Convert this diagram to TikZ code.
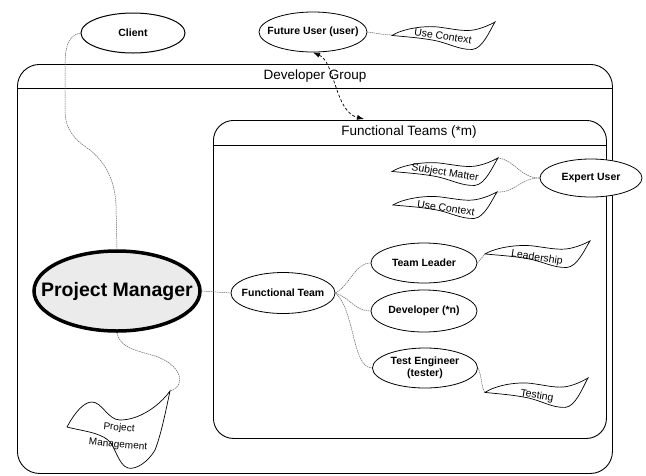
\documentclass[tikz,border=0pt]{standalone}
\usepackage{fontspec}
\setmainfont{Liberation Sans}
\usetikzlibrary{shapes.geometric,arrows.meta}
\tikzset{
  ell/.style={draw, ellipse, line width=0.8pt, fill=white, inner sep=0pt,
    font=\bfseries\fontsize{10.5}{12}\selectfont, align=center},
  conn/.style={draw=black!60, line width=0.5pt, dash pattern=on 1.5pt off 0.7pt},
  flagtxt/.style={font=\fontsize{10.5}{12}\selectfont, inner sep=0pt, rotate=-9},
  pmtxt/.style={font=\fontsize{10}{12}\selectfont, inner sep=0pt, rotate=-5},
  boxline/.style={line width=0.9pt},
  titletxt/.style={font=\fontsize{13.5}{15}\selectfont, inner sep=0pt},
  darr/.style={line width=0.7pt, dash pattern=on 3pt off 2pt,
    {Latex[length=7pt,width=5pt]}-{Latex[length=7pt,width=5pt]}},
}
\newcommand{\wflag}[4]{%
  \path[draw=black, line width=0.7pt, fill=white, shift={(#1,#2)}, xscale=#3, yscale=#4]
    (0,0.48) .. controls (0.1,0.25) and (0.3,0.12) .. (0.45,0.18)
    .. controls (0.6,0.25) and (0.7,0.35) .. (0.8,0.28)
    .. controls (0.88,0.22) and (0.95,0.1) .. (1,0)
    .. controls (0.95,0.3) and (0.88,0.95) .. (0.78,0.98)
    .. controls (0.65,1.0) and (0.55,0.75) .. (0.4,0.65)
    .. controls (0.25,0.55) and (0.1,0.52) .. (0,0.48) -- cycle;}
\newcommand{\zw}[1]{\makebox[0pt]{#1}}
\begin{document}
\begin{tikzpicture}[x=1pt,y=-1pt]
\useasboundingbox (0,0) rectangle (646,475);
% containers
\node[draw, boxline, rounded corners=22pt, minimum width=595pt, minimum height=409pt,
  anchor=north west, inner sep=0pt] (dg) at (17,64) {};
\draw[boxline] (dg.north west) ++(0,24) -- ++(595,0);
\node[titletxt] (dgt) at (315,76) {Developer Group};
\node[draw, boxline, rounded corners=20pt, minimum width=393pt, minimum height=318pt,
  anchor=north west, inner sep=0pt] (ftb) at (213,120) {};
\draw[boxline] (ftb.north west) ++(0,25) -- ++(393,0);
\node[titletxt] (ftt) at (409,132) {Functional Teams (*m)};
% tip coordinates
\coordinate (uc1Tip) at (392,35);
\coordinate (smTip) at (498,158);
\coordinate (uc2Tip) at (497,192);
\coordinate (ldTip) at (485,254);
\coordinate (tsTip) at (485,392);
\coordinate (pmTip) at (170,391);
\coordinate (ftTop) at (364,119);
% flags
\wflag{392}{22}{103}{28}
\wflag{392}{158}{106}{28}
\wflag{393}{192}{104}{27}
\wflag{485}{241}{105}{27}
\wflag{485}{378}{103}{30}
\path[draw=black, line width=0.7pt, fill=white]
  (67,427) .. controls (75,412) and (84,402) .. (92,402)
  .. controls (102,402) and (108,420) .. (120,420)
  .. controls (140,420) and (160,405) .. (170,391)
  .. controls (166,410) and (161,435) .. (155,450)
  .. controls (148,462) and (136,470) .. (128,468)
  .. controls (118,465) and (115,445) .. (108,440)
  .. controls (98,432) and (82,431) .. (67,427) -- cycle;
% ellipses
\node[ell, line width=1pt, minimum width=104pt, minimum height=40pt] (client) at (133,33) {\zw{Client}};
\node[ell, minimum width=108pt, minimum height=40pt] (fu) at (313,32) {\zw{Future User (user)}};
\node[ell, line width=3.5pt, fill=black!8, minimum width=166pt, minimum height=80pt,
  font=\bfseries\fontsize{19.5}{22}\selectfont] (pm) at (117,291) {\zw{Project Manager}};
\node[ell, minimum width=104pt, minimum height=41pt] (fteam) at (283,293) {\zw{Functional Team}};
\node[ell, minimum width=106pt, minimum height=40pt] (tl) at (424,263) {\zw{Team Leader}};
\node[ell, minimum width=106pt, minimum height=42pt] (dev) at (424,311) {\zw{Developer (*n)}};
\node[ell, minimum width=105pt, minimum height=40pt] (te) at (425,368) {Test Engineer\\(tester)};
\node[ell, minimum width=102pt, minimum height=38pt] (eu) at (591,178) {\zw{Expert User}};
% connectors
\draw[conn] (client.west) .. controls (66,36) and (65,50) .. (65,70) -- (65,110)
  .. controls (65,130) and (75,140) .. (90,150) .. controls (105,162) and (115,180) .. (116,205)
  -- (pm.north);
\draw[conn] (pm.south) .. controls (120,348) and (135,350) .. (155,356)
  .. controls (180,364) and (188,385) .. (pmTip);
\draw[conn] (pm.east) -- (fteam.west);
\draw[conn] (fteam.east) .. controls (350,285) and (355,263) .. (tl.west);
\draw[conn] (fteam.east) .. controls (350,298) and (355,311) .. (dev.west);
\draw[conn] (fteam.east) .. controls (355,310) and (352,368) .. (te.west);
\draw[conn] (tl.east) -- (ldTip);
\draw[conn] (te.east) .. controls (482,375) and (481,388) .. (tsTip);
\draw[conn] (eu.west) .. controls (520,178) and (515,160) .. (smTip);
\draw[conn] (eu.west) .. controls (520,178) and (515,193) .. (uc2Tip);
\draw[conn] (fu.east) .. controls (375,33) and (385,35) .. (uc1Tip);
\draw[darr] (fu.south) .. controls (335,62) and (335,112) .. (ftTop);
% flag texts
\node[flagtxt] (uc1t) at (443,36) {Use Context};
\node[flagtxt] (smt) at (445,173) {Subject Matter};
\node[flagtxt] (uc2t) at (446,208) {Use Context};
\node[flagtxt] (ldt) at (537,258) {Leadership};
\node[flagtxt] (tst) at (537,396) {Testing};
\node[pmtxt] (pmt1) at (119,428) {Project};
\node[pmtxt] (pmt2) at (118,445) {Management};
\end{tikzpicture}
\end{document}
